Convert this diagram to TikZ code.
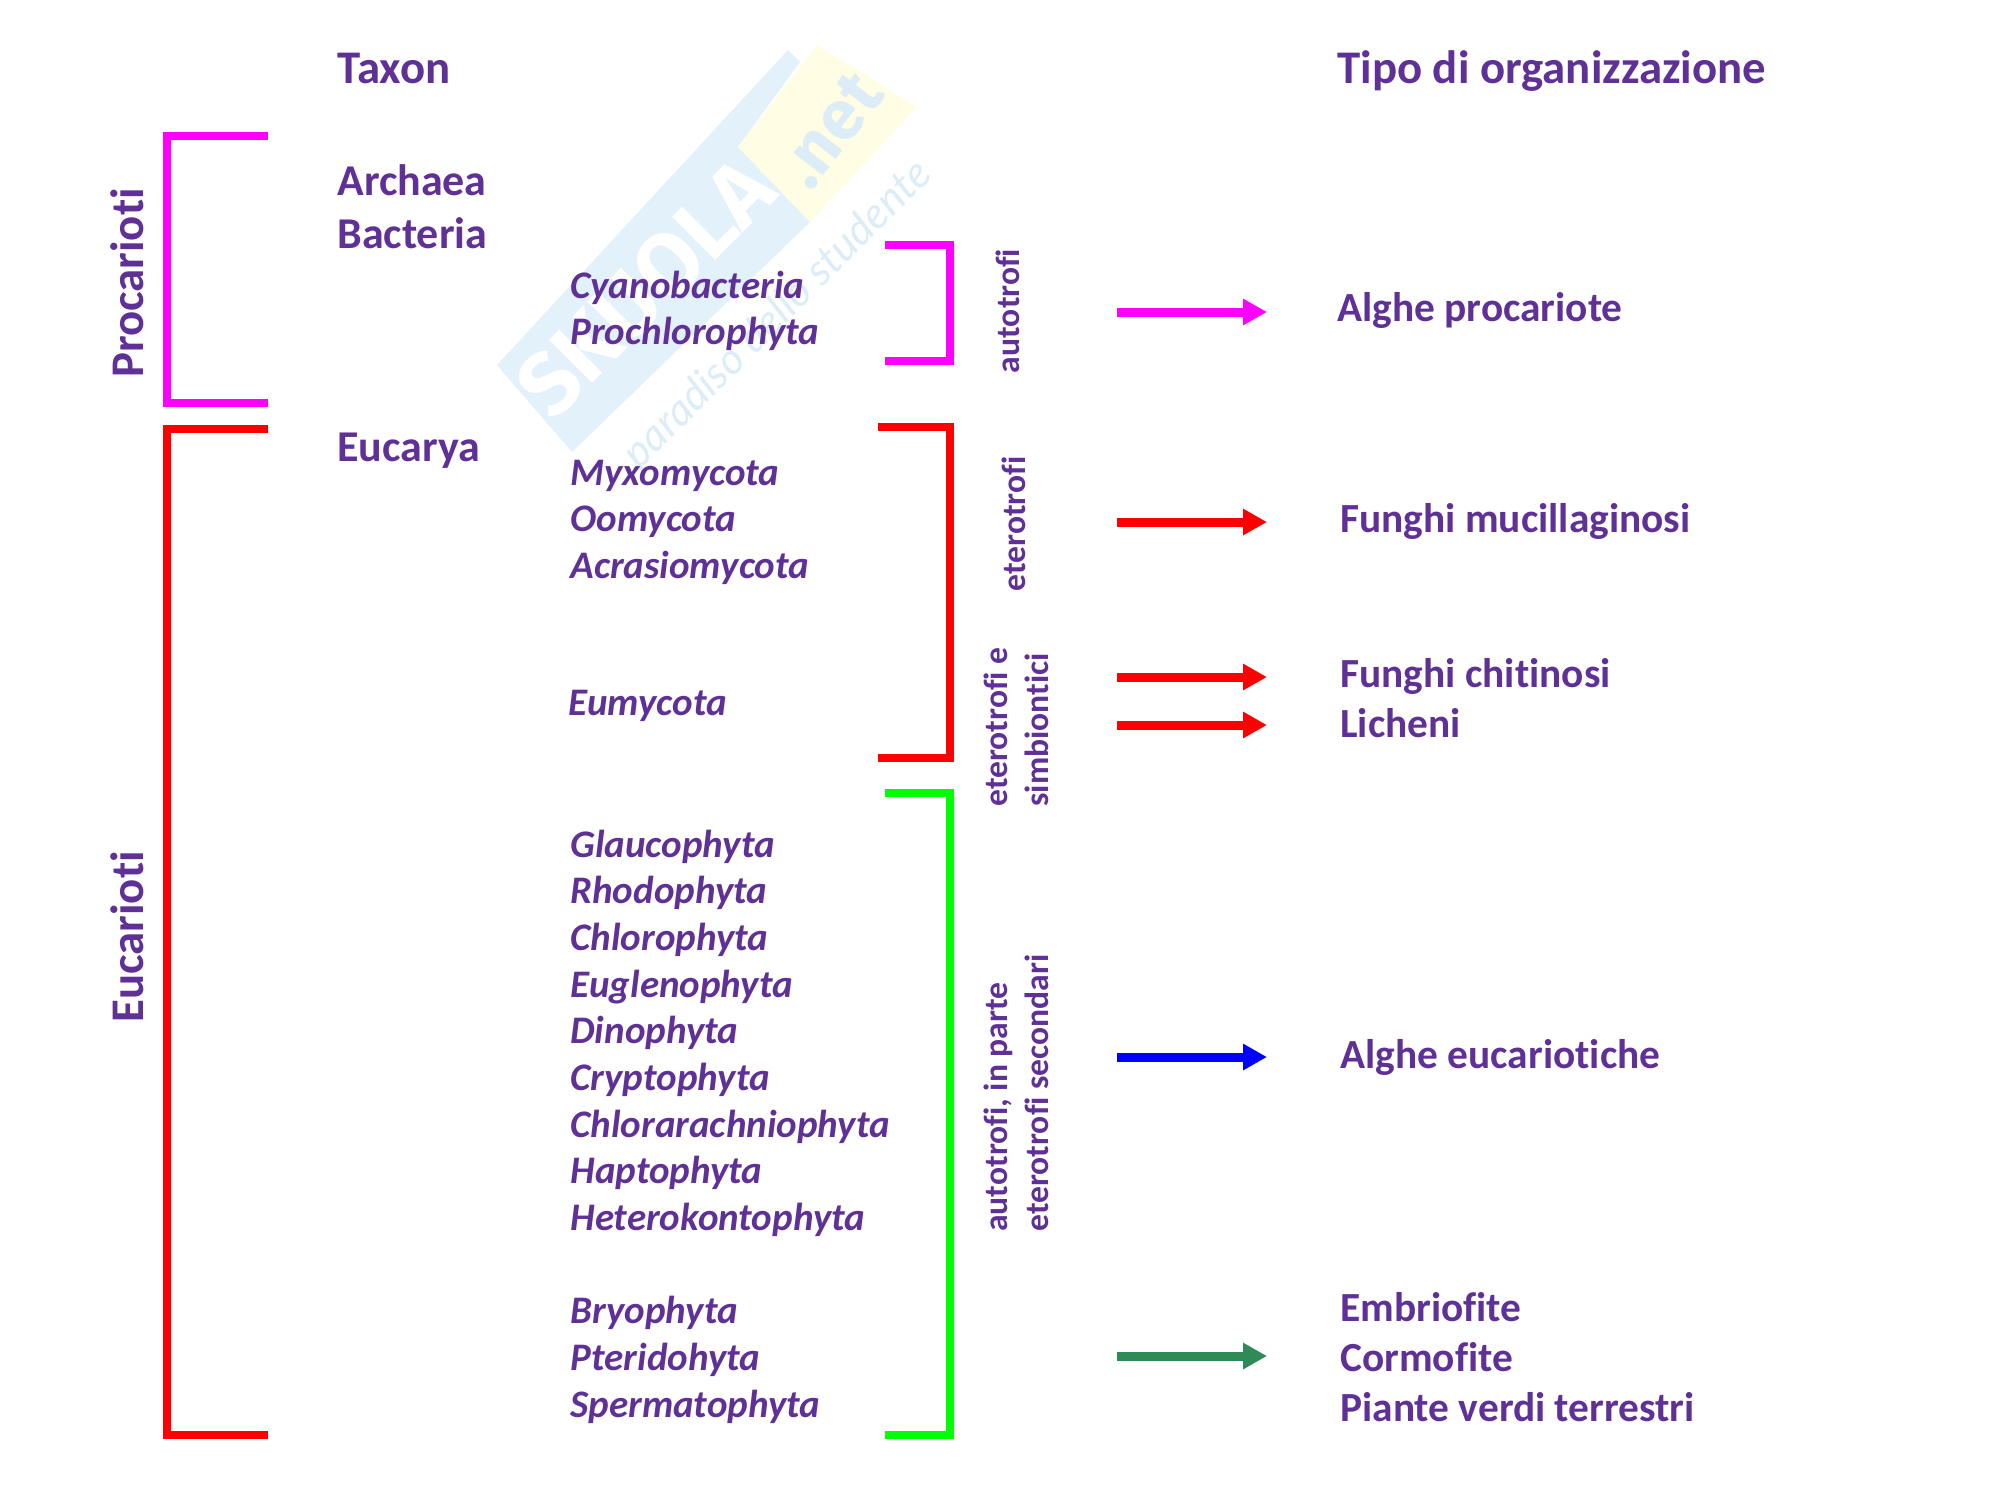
\documentclass[tikz,border=0pt]{standalone}
\usepackage{fontspec}
\setmainfont[Ligatures={NoCommon}]{Carlito}
\newfontfamily\wmfont{Fira Sans}
\newfontfamily\wmthin{Lato}
\usetikzlibrary{arrows.meta}
\definecolor{txt}{HTML}{5F3197}
\definecolor{wmblue}{HTML}{E3F1FA}
\definecolor{wmyel}{HTML}{FFFDE3}
\definecolor{wmtxt}{HTML}{DCEDF8}
\definecolor{mag}{HTML}{FF00FF}
\definecolor{arrgreen}{HTML}{2E8B57}
\tikzset{
  big/.style={font=\bfseries\fontsize{20.7}{25}\selectfont,text=txt,anchor=base west,inner sep=0pt},
  head/.style={big,font=\bfseries\fontsize{23.4}{28}\selectfont},
  upper/.style={big,font=\bfseries\fontsize{22}{26}\selectfont},
  taxa/.style={font=\bfseries\itshape\fontsize{19.5}{23}\selectfont,text=txt,anchor=base west,inner sep=0pt},
  vert/.style={font=\bfseries\fontsize{16.8}{20.5}\selectfont,text=txt,rotate=90,align=left,inner sep=0pt},
  vertbig/.style={font=\bfseries\fontsize{23.4}{28}\selectfont,text=txt,rotate=90,inner sep=0pt},
  brk/.style={line width=4pt,miter limit=10},
  arr/.style={line width=4.5pt,-{Triangle[length=12pt,width=12.5pt]},shorten >=0pt},
}
\begin{document}
\begin{tikzpicture}[x=0.5pt,y=-0.5pt]
\useasboundingbox (0,0) rectangle (2000,1500);
% watermark
\fill[wmblue] (497,365) -- (788,50) -- (800,62) -- (738,147) -- (810,222) -- (572,452) -- cycle;
\fill[wmyel] (738,147) -- (817,45) -- (917,107) -- (810,222) -- cycle;
\node[rotate=45,font=\wmfont\bfseries\fontsize{44}{44}\selectfont,text=white,inner sep=0pt] (wma) at (645,288) {SKUOLA};
\node[rotate=52,font=\wmfont\bfseries\fontsize{35}{35}\selectfont,text=wmtxt,inner sep=0pt] (wmb) at (830,130) {.net};
\node[rotate=45,font=\wmthin\itshape\fontsize{21.6}{25}\selectfont,text=wmtxt,inner sep=0pt] (wmc) at (778,315) {paradiso dello studente};
% headings
\node[head] (taxon) at (337,83) {Taxon};
\node[head] (tipo) at (1337,83) {Tipo di organizzazione};
\node[upper] (archaea) at (337,195) {Archaea};
\node[upper] (bacteria) at (337,248) {Bacteria};
\node[upper] (eucarya) at (337,461) {Eucarya};
\node[vertbig] (proc) at (127,283) {Procarioti};
\node[vertbig] (euca) at (127,937) {Eucarioti};
% taxa
\node[taxa] (t1) at (570,298) {Cyanobacteria};
\node[taxa] (t2) at (570,344) {Prochlorophyta};
\node[taxa] (t3) at (570,485) {Myxomycota};
\node[taxa] (t4) at (570,531) {Oomycota};
\node[taxa] (t5) at (570,578) {Acrasiomycota};
\node[taxa] (t6) at (568,715) {Eumycota};
\node[taxa] (t7) at (570,857) {Glaucophyta};
\node[taxa] (t8) at (570,903) {Rhodophyta};
\node[taxa] (t9) at (570,950) {Chlorophyta};
\node[taxa] (t10) at (570,997) {Euglenophyta};
\node[taxa] (t11) at (570,1043) {Dinophyta};
\node[taxa] (t12) at (570,1090) {Cryptophyta};
\node[taxa] (t13) at (570,1137) {Chlorarachniophyta};
\node[taxa] (t14) at (570,1183) {Haptophyta};
\node[taxa] (t15) at (570,1230) {Heterokontophyta};
\node[taxa] (t16) at (570,1323) {Bryophyta};
\node[taxa] (t17) at (570,1370) {Pteridohyta};
\node[taxa] (t18) at (570,1417) {Spermatophyta};
% vertical labels
\node[vert] (v1) at (1008,311) {autotrofi};
\node[vert] (v2) at (1014,524) {eterotrofi};
\node[vert] (v3) at (1016,727) {eterotrofi e\\simbiontici};
\node[vert] (v4) at (1016,1093) {autotrofi, in parte\\eterotrofi secondari};
% right labels
\node[big] (r1) at (1337,321) {Alghe procariote};
\node[big] (r2) at (1340,532) {Funghi mucillaginosi};
\node[big] (r3) at (1340,687) {Funghi chitinosi};
\node[big] (r4) at (1340,737) {Licheni};
\node[big] (r5) at (1340,1068) {Alghe eucariotiche};
\node[big] (r6) at (1340,1321) {Embriofite};
\node[big] (r7) at (1340,1371) {Cormofite};
\node[big] (r8) at (1340,1421) {Piante verdi terrestri};
% bracket ends
\coordinate (ba1) at (268,136); \coordinate (ba2) at (268,403);
\coordinate (bb1) at (268,429); \coordinate (bb2) at (268,1435);
\coordinate (bc1) at (885,245); \coordinate (bc2) at (885,361);
\coordinate (bd1) at (878,427); \coordinate (bd2) at (878,758);
\coordinate (be1) at (885,793); \coordinate (be2) at (885,1435);
\draw[brk,mag] (ba1) -| (167,0 |- ba2) -- (ba2);
\draw[brk,red] (bb1) -| (167,0 |- bb2) -- (bb2);
\draw[brk,mag] (bc1) -| (950,0 |- bc2) -- (bc2);
\draw[brk,red] (bd1) -| (950,0 |- bd2) -- (bd2);
\draw[brk,green] (be1) -| (950,0 |- be2) -- (be2);
% arrows
\foreach \n/\y in {a/312,b/522,c/677,d/725,e/1057,f/1356}{
  \coordinate (s\n) at (1117,\y); \coordinate (e\n) at (1267,\y);
}
\draw[arr,mag] (sa) -- (ea);
\draw[arr,red] (sb) -- (eb);
\draw[arr,red] (sc) -- (ec);
\draw[arr,red] (sd) -- (ed);
\draw[arr,blue] (se) -- (ee);
\draw[arr,arrgreen] (sf) -- (ef);
\end{tikzpicture}
\end{document}
